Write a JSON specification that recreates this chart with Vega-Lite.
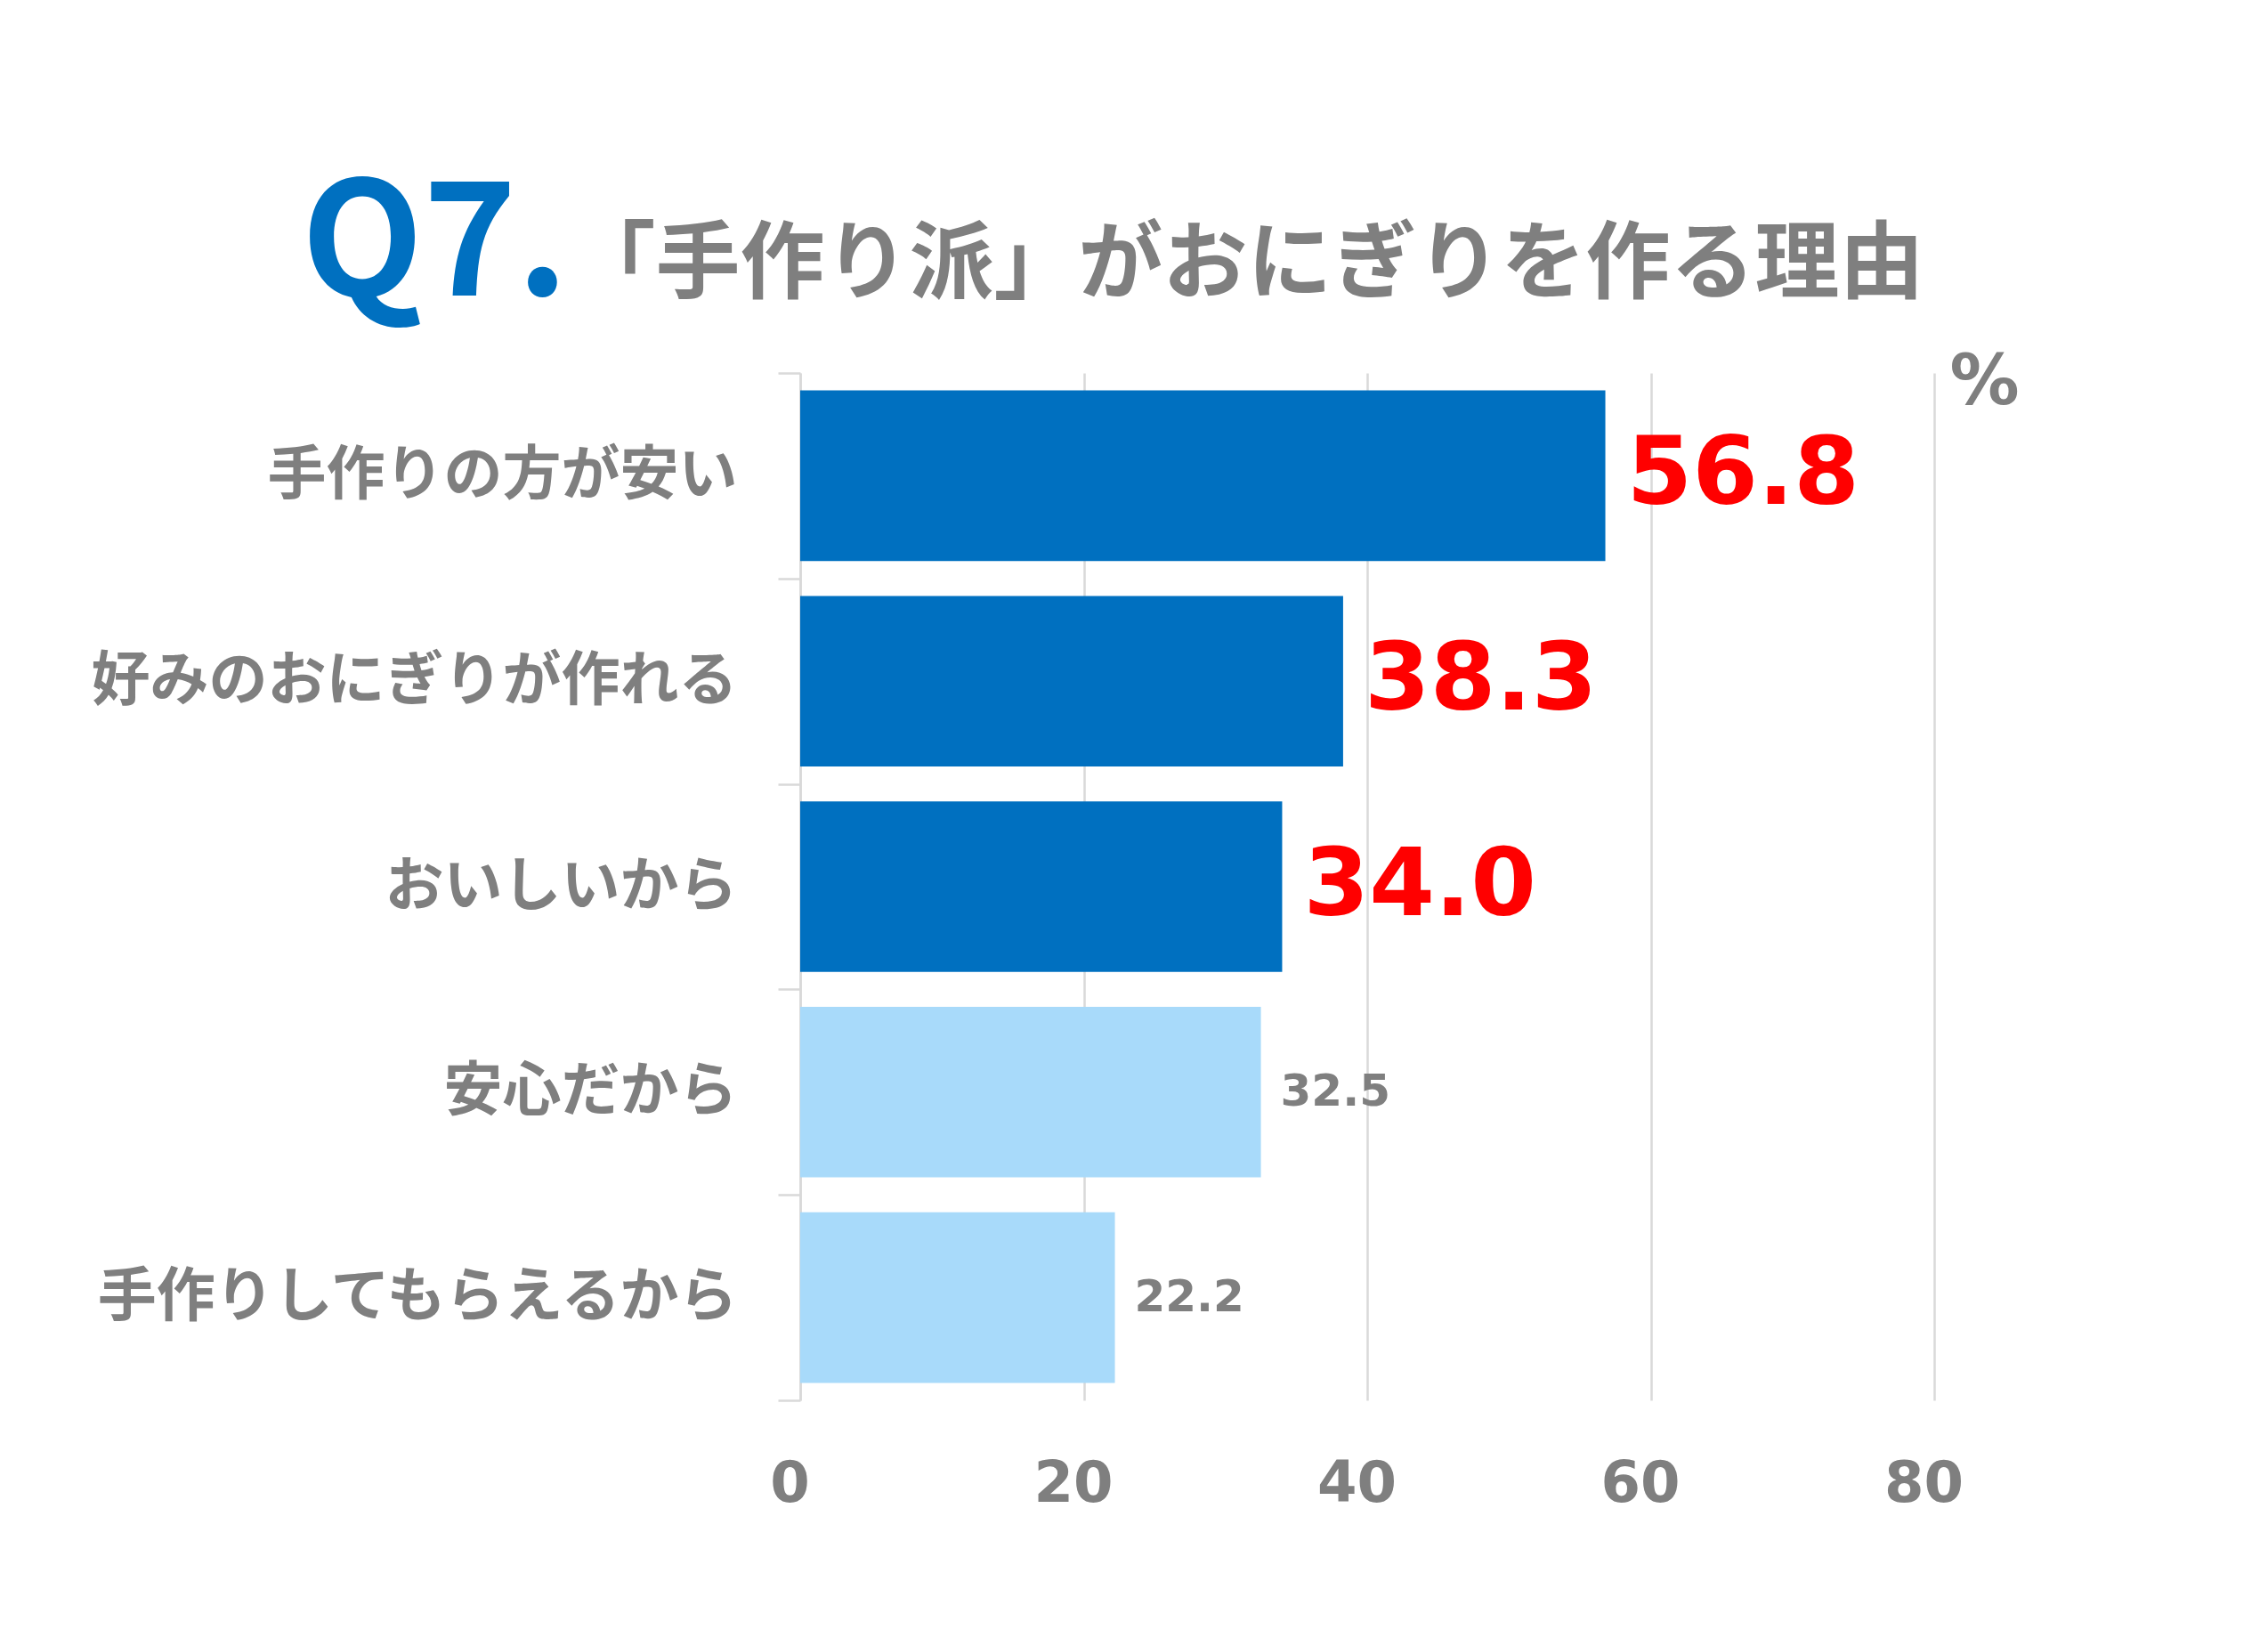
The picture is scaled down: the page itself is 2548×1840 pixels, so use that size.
{
  "$schema": "https://vega.github.io/schema/vega-lite/v6.json",
  "width": 1274,
  "height": 1154,
  "autosize": {"type": "none"},
  "padding": {"left": 899, "top": 419, "right": 375, "bottom": 267},
  "background": "#FFFFFF",
  "config": {"view": {"stroke": null}},
  "data": {
    "values": [
      {"reason": "手作りの方が安い", "pct": 56.8, "group": "top"},
      {"reason": "好みのおにぎりが作れる", "pct": 38.3, "group": "top"},
      {"reason": "おいしいから", "pct": 34.0, "group": "top"},
      {"reason": "安心だから", "pct": 32.5, "group": "other"},
      {"reason": "手作りしてもらえるから", "pct": 22.2, "group": "other"}
    ]
  },
  "encoding": {
    "y": {
      "field": "reason",
      "type": "nominal",
      "sort": null,
      "scale": {"paddingInner": 0, "paddingOuter": 0},
      "axis": {
        "title": "Q7.",
        "titleAngle": 0,
        "titleX": -561,
        "titleY": -88,
        "titleAlign": "left",
        "titleBaseline": "alphabetic",
        "titleFont": "Noto Sans CJK JP",
        "titleFontSize": 178,
        "titleFontWeight": "bold",
        "titleColor": "#0070C0",
        "labelFont": "Noto Sans CJK JP",
        "labelFontSize": 66,
        "labelFontWeight": "bold",
        "labelColor": "#7F7F7F",
        "labelPadding": 46,
        "labelLimit": 1000,
        "tickBand": "extent",
        "tickSize": 25,
        "tickColor": "#D9D9D9",
        "tickWidth": 2.5,
        "domainColor": "#D9D9D9",
        "domainWidth": 2.5,
        "grid": false
      }
    }
  },
  "layer": [
    {
      "mark": {"type": "bar", "height": {"band": 0.83}},
      "encoding": {
        "x": {
          "field": "pct",
          "type": "quantitative",
          "scale": {"domain": [0, 80], "nice": false},
          "axis": {
            "orient": "bottom",
            "values": [0, 20, 40, 60, 80],
            "labelFlush": false,
            "domain": false,
            "ticks": false,
            "grid": true,
            "gridColor": "#D9D9D9",
            "gridWidth": 2.5,
            "labelFont": "DejaVu Sans",
            "labelFontSize": 64,
            "labelFontWeight": "bold",
            "labelColor": "#7F7F7F",
            "labelPadding": 62,
            "labelOffset": -12,
            "title": "%",
            "titleX": 1291,
            "titleY": -1120,
            "titleAlign": "left",
            "titleBaseline": "alphabetic",
            "titleFont": "DejaVu Sans",
            "titleFontSize": 78,
            "titleFontWeight": "bold",
            "titleColor": "#7F7F7F"
          }
        },
        "color": {
          "field": "group",
          "type": "nominal",
          "scale": {"domain": ["top", "other"], "range": ["#0070C0", "#A8DAFA"]},
          "legend": null
        }
      }
    },
    {
      "transform": [{"filter": "datum.group === 'top'"}],
      "mark": {"type": "text", "align": "left", "baseline": "middle", "dx": 24, "font": "DejaVu Sans", "fontSize": 106, "fontWeight": "bold", "color": "#FF0000"},
      "encoding": {
        "x": {
          "field": "pct",
          "type": "quantitative",
          "axis": {
            "orient": "top",
            "labels": false,
            "ticks": false,
            "domain": false,
            "grid": false,
            "title": "「手作り派」がおにぎりを作る理由",
            "titleX": -258,
            "titleY": -92,
            "titleAlign": "left",
            "titleBaseline": "alphabetic",
            "titleFont": "Noto Sans CJK JP",
            "titleFontSize": 95,
            "titleFontWeight": "bold",
            "titleColor": "#7F7F7F"
          }
        },
        "text": {"field": "pct", "type": "quantitative", "format": ".1f"}
      }
    },
    {
      "transform": [{"filter": "datum.group === 'other'"}],
      "mark": {"type": "text", "align": "left", "baseline": "middle", "dx": 22, "font": "DejaVu Sans", "fontSize": 50, "fontWeight": "bold", "color": "#7F7F7F"},
      "encoding": {
        "x": {"field": "pct", "type": "quantitative", "axis": null},
        "text": {"field": "pct", "type": "quantitative", "format": ".1f"}
      }
    }
  ]
}
